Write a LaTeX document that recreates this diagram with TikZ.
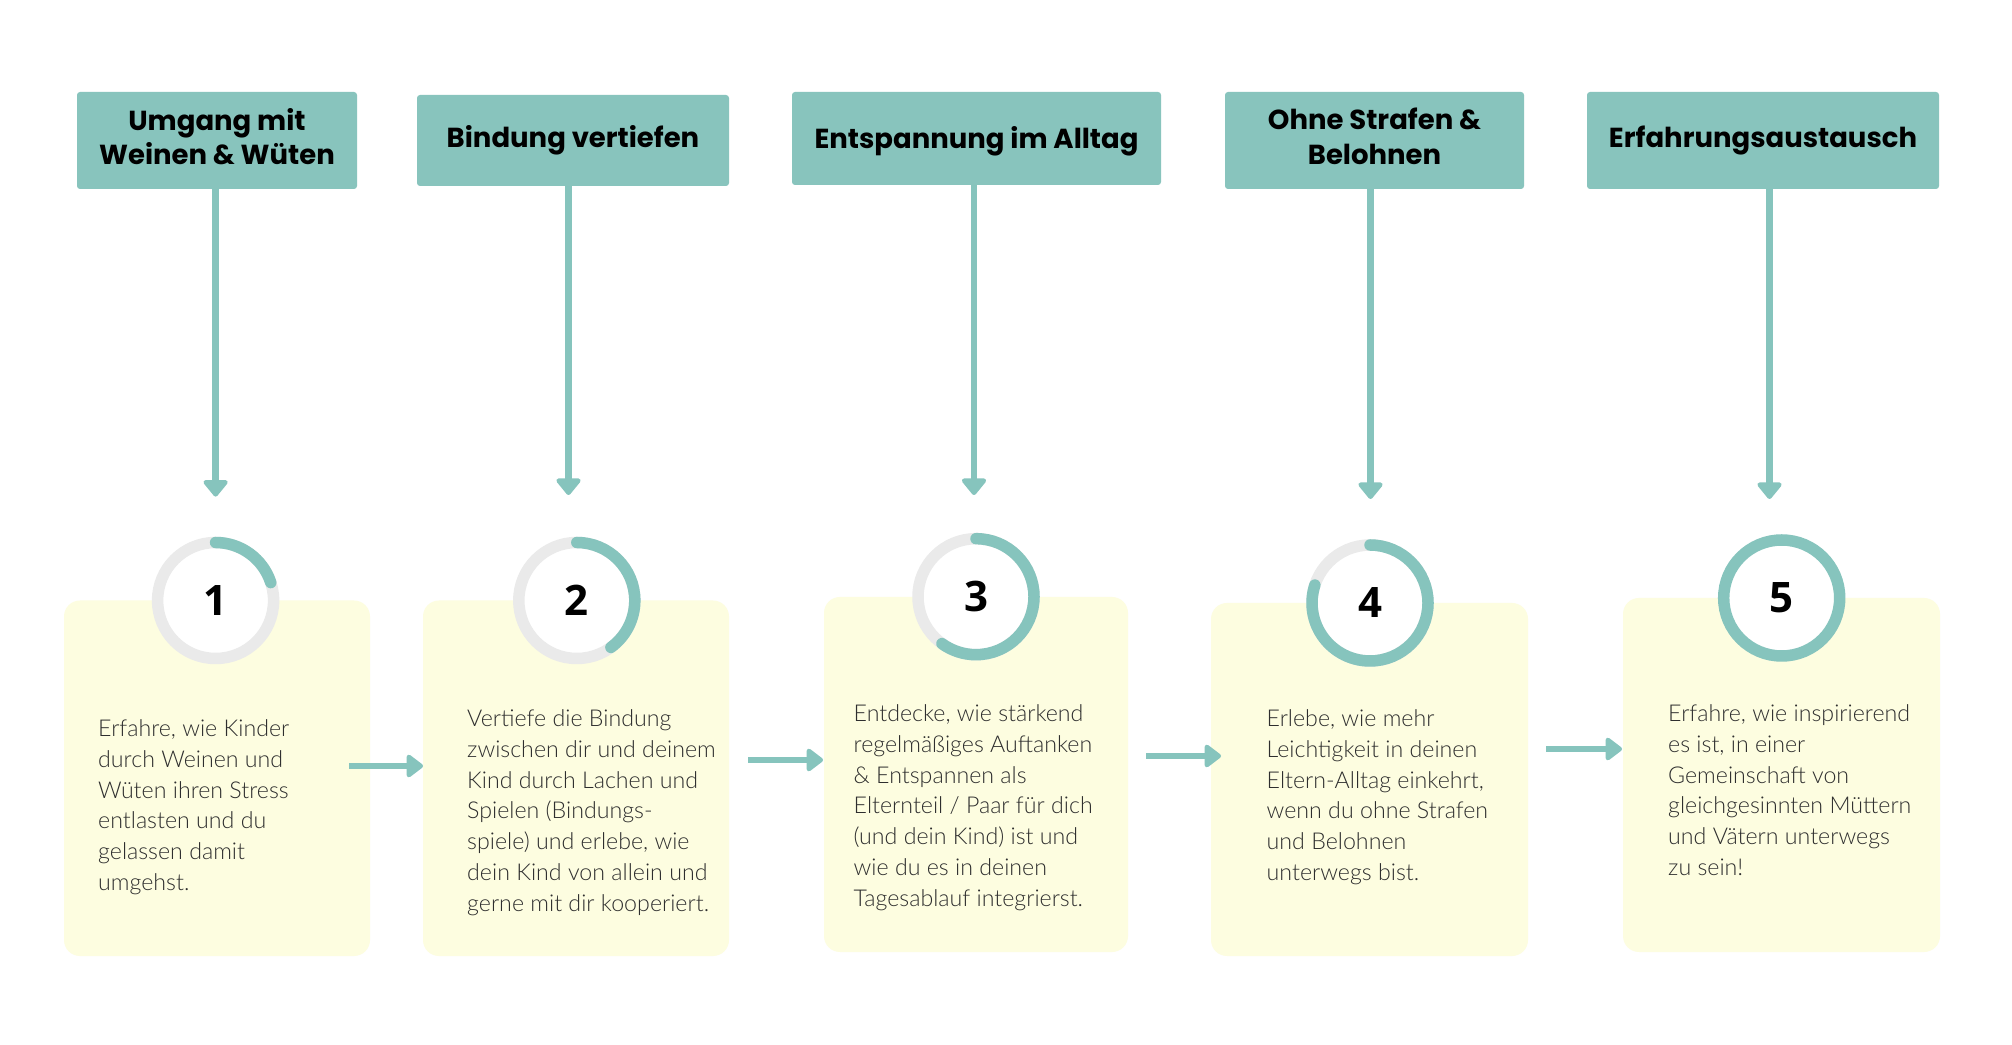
\documentclass[tikz,border=0pt]{standalone}
\usepackage{fontspec}
\setmainfont{Lato}
\newfontfamily\bodyfont{Lato Light}
\newfontfamily\headfont{Poppins}
\newfontfamily\numfont{Open Sans}
\usetikzlibrary{arrows.meta}
\definecolor{tealc}{HTML}{86C4BD}
\definecolor{headc}{HTML}{88C4BD}
\definecolor{yellowc}{HTML}{FDFDE0}
\definecolor{ringgray}{HTML}{EAEAEA}
\definecolor{textc}{HTML}{2E2E2E}
\begin{document}
\begin{tikzpicture}[x=1pt,y=1pt,
  headbox/.style 2 args={fill=headc, rounded corners=3pt, minimum width=#1, minimum height=#2,
    inner sep=0pt, align=center, text=black,
    font=\headfont\bfseries\fontsize{27.5}{34.6}\selectfont},
  cardbox/.style 2 args={fill=yellowc, rounded corners=16pt, minimum width=#1, minimum height=#2, inner sep=0pt},
  ring/.style={circle, draw=ringgray, line width=11.5pt, fill=white, minimum size=116pt, inner sep=0pt,
    font=\numfont\bfseries\fontsize{42}{42}\selectfont, text=black},
  progress/.style={draw=tealc, line width=11.5pt, line cap=round},
  varrow/.style={draw=tealc, line width=6.5pt, -{Triangle[width=28pt,length=18pt,round]}},
  harrow/.style={draw=tealc, line width=6.5pt, -{Triangle[width=26pt,length=18pt,round]}},
  bodytext/.style={anchor=base west, inner sep=0pt, align=left, text=textc,
    font=\bodyfont\fontsize{23.2}{30.8}\selectfont}
]
\useasboundingbox (0,0) rectangle (2012,1044);
\fill[white] (0,0) rectangle (2012,1044);

% yellow cards
\node[cardbox={306pt}{355.5pt}] (b1) at (217,265.75) {};
\node[cardbox={306pt}{355.5pt}] (b2) at (576,265.75) {};
\node[cardbox={304pt}{355pt}]   (b3) at (976,269.5) {};
\node[cardbox={317pt}{353pt}]   (b4) at (1369.5,264.5) {};
\node[cardbox={317pt}{354pt}]   (b5) at (1781.5,269) {};

% progress rings
\node[ring] (c1) at (215.6,443.5) {1};
\node[ring] (c2) at (576.8,443.5) {2};
\node[ring] (c3) at (976,447.3) {3};
\node[ring] (c4) at (1370,441) {4};
\node[ring, draw=tealc] (c5) at (1781.7,446) {5};
\draw[progress] ([shift={(90:58pt)}]c1.center) arc[start angle=90, end angle=18, radius=58pt];
\draw[progress] ([shift={(90:58pt)}]c2.center) arc[start angle=90, end angle=-54, radius=58pt];
\draw[progress] ([shift={(90:58pt)}]c3.center) arc[start angle=90, end angle=-126, radius=58pt];
\draw[progress] ([shift={(90:58pt)}]c4.center) arc[start angle=90, end angle=-198, radius=58pt];

% headers
\node[headbox={280pt}{97pt}, text depth=8pt] (h1) at (217,903.5) {Umgang mit\\Weinen \& Wüten};
\node[headbox={312pt}{91pt}] (h2) at (573,903.5) {Bindung vertiefen};
\node[headbox={369pt}{93pt}, text depth=3pt] (h3) at (976.5,905.5) {Entspannung im Alltag};
\node[headbox={299pt}{97pt}, text depth=8pt] (h4) at (1374.5,903.5) {Ohne Strafen \&\\Belohnen};
\node[headbox={352pt}{97pt}] (h5) at (1763,903.5) {Erfahrungsaustausch};

% vertical arrows
\coordinate (t1) at (215.6,547.4);
\coordinate (t2) at (568.5,549);
\coordinate (t3) at (974,549);
\coordinate (t4) at (1370.5,545);
\coordinate (t5) at (1769.5,545);
\draw[varrow] (h1.south -| t1) -- (t1);
\draw[varrow] (h2.south -| t2) -- (t2);
\draw[varrow] (h3.south -| t3) -- (t3);
\draw[varrow] (h4.south -| t4) -- (t4);
\draw[varrow] (h5.south -| t5) -- (t5);

% horizontal arrows
\coordinate (s1) at (349,278);  \coordinate (e1) at (423,278);
\coordinate (s2) at (748,284);  \coordinate (e2) at (823,284);
\coordinate (s3) at (1146,288); \coordinate (e3) at (1221,288);
\coordinate (s4) at (1546,295); \coordinate (e4) at (1622,295);
\draw[harrow] (s1) -- (e1);
\draw[harrow] (s2) -- (e2);
\draw[harrow] (s3) -- (e3);
\draw[harrow] (s4) -- (e4);

% body texts (anchored at the baseline of the last line)
\node[bodytext] (d1) at (98,153.5) {Erfahre, wie Kinder\\durch Weinen und\\Wüten ihren Stress\\entlasten und du\\gelassen damit\\umgehst.};
\node[bodytext] (d2) at (467,132.7) {Vertiefe die Bindung\\zwischen dir und deinem\\Kind durch Lachen und\\Spielen (Bindungs-\\spiele) und erlebe, wie\\dein Kind von allein und\\gerne mit dir kooperiert.};
\node[bodytext] (d3) at (853.5,137.7) {Entdecke, wie stärkend\\regelmäßiges Auftanken\\\& Entspannen als\\Elternteil / Paar für dich\\(und dein Kind) ist und\\wie du es in deinen\\Tagesablauf integrierst.};
\node[bodytext] (d4) at (1266.5,163.5) {Erlebe, wie mehr\\Leichtigkeit in deinen\\Eltern-Alltag einkehrt,\\wenn du ohne Strafen\\und Belohnen\\unterwegs bist.};
\node[bodytext] (d5) at (1668,168.5) {Erfahre, wie inspirierend\\es ist, in einer\\Gemeinschaft von\\gleichgesinnten Müttern\\und Vätern unterwegs\\zu sein!};
\end{tikzpicture}
\end{document}
